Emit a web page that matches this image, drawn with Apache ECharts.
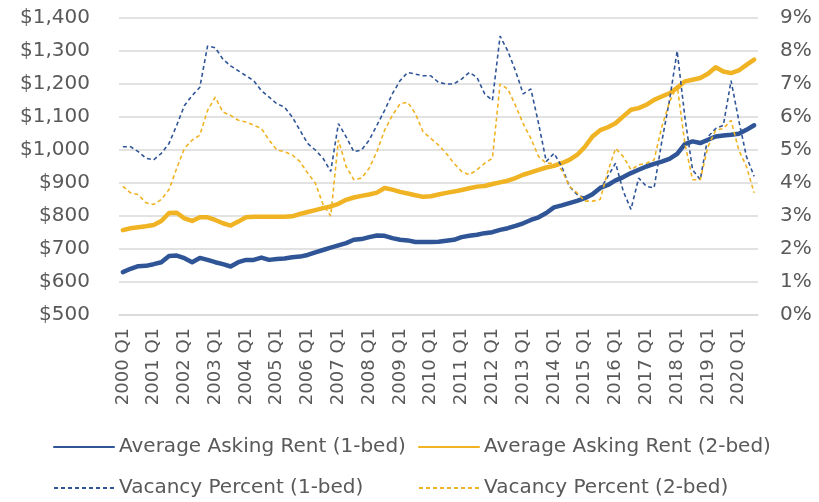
<!DOCTYPE html>
<html>
<head>
<meta charset="utf-8">
<style>
  html, body { margin: 0; padding: 0; background: #ffffff; }
  #chart { width: 819px; height: 502px; }
</style>
<script src="https://cdn.jsdelivr.net/npm/echarts@6/dist/echarts.min.js"></script>
</head>
<body>
<div id="chart"></div>
<script>
// Quarterly periods, 2000 Q1 through 2020 Q3
const years = [2000, 2001, 2002, 2003, 2004, 2005, 2006, 2007, 2008, 2009, 2010,
               2011, 2012, 2013, 2014, 2015, 2016, 2017, 2018, 2019, 2020];
const quarters = ['Q1', 'Q2', 'Q3', 'Q4'];
const lastQuarterCount = 3; // 2020 runs through Q3

const categories = [];
years.forEach(function (y, yi) {
  const n = yi === years.length - 1 ? lastQuarterCount : quarters.length;
  for (let q = 0; q < n; q++) categories.push(y + ' ' + quarters[q]);
});

// Average asking rent, dollars per month
const rentOneBed = [
  630, 640, 648, 649, 654, 660, 679, 680, 672, 660,
  673, 667, 660, 654, 647, 660, 667, 667, 674, 667,
  670, 671, 675, 677, 682, 690, 697, 704, 711, 718,
  728, 730, 736, 741, 740, 733, 728, 726, 721, 721,
  721, 722, 725, 728, 736, 740, 743, 748, 751, 758,
  763, 770, 778, 788, 796, 809, 826, 832, 839, 846,
  854, 866, 885, 894, 908, 918, 930, 940, 950, 958,
  965, 973, 988, 1018, 1026, 1021, 1031, 1041, 1044, 1046,
  1049, 1061, 1075
];
const rentTwoBed = [
  757, 763, 766, 769, 773, 785, 809, 810, 793, 785,
  796, 796, 788, 778, 771, 783, 796, 798, 798, 798,
  798, 798, 799, 806, 812, 818, 824, 829, 837, 849,
  856, 861, 865, 871, 885, 880, 873, 868, 863, 858,
  860, 865, 870, 874, 879, 884, 889, 891, 897, 902,
  907, 915, 925, 932, 940, 947, 952, 960, 970, 985,
  1009, 1041, 1060, 1069, 1081, 1102, 1122, 1127, 1137, 1152,
  1162, 1172, 1188, 1208, 1213, 1218, 1231, 1251, 1238, 1233,
  1241, 1258, 1274
];

// Vacancy rate, percent
const vacancyOneBed = [
  5.1, 5.1, 4.95, 4.75, 4.7, 4.9, 5.2, 5.75, 6.35, 6.65,
  6.9, 8.15, 8.1, 7.75, 7.55, 7.4, 7.25, 7.1, 6.8, 6.6,
  6.4, 6.3, 6.0, 5.6, 5.2, 5.0, 4.75, 4.35, 5.8, 5.4,
  4.95, 5.0, 5.3, 5.75, 6.2, 6.7, 7.1, 7.35, 7.3, 7.25,
  7.25, 7.05, 7.0, 7.0, 7.15, 7.35, 7.2, 6.7, 6.5, 8.45,
  8.0, 7.4, 6.7, 6.85, 5.8, 4.65, 4.9, 4.5, 3.9, 3.65,
  3.55, 3.7, 3.8, 4.2, 4.6, 3.75, 3.2, 4.15, 3.9, 3.85,
  5.25, 6.5, 8.0, 6.0, 4.4, 4.1, 5.4, 5.65, 5.75, 7.1,
  5.9, 4.8, 4.2
];
const vacancyTwoBed = [
  3.9, 3.7, 3.65, 3.4, 3.35, 3.5, 3.8, 4.45, 5.05, 5.3,
  5.45, 6.2, 6.6, 6.15, 6.05, 5.9, 5.85, 5.75, 5.65, 5.3,
  5.0, 4.95, 4.85, 4.65, 4.3, 4.0, 3.35, 3.0, 5.3, 4.5,
  4.1, 4.15, 4.45, 4.95, 5.6, 6.05, 6.4, 6.45, 6.1, 5.55,
  5.35, 5.15, 4.9, 4.6, 4.35, 4.25, 4.4, 4.6, 4.75, 7.0,
  6.85, 6.35, 5.8, 5.35, 4.8, 4.6, 4.6, 4.4, 3.9, 3.7,
  3.45, 3.45, 3.5, 4.35, 5.05, 4.8, 4.4, 4.55, 4.6, 4.7,
  5.7, 6.45, 6.95, 5.2, 4.1, 4.1, 5.1, 5.6, 5.65, 5.9,
  5.0, 4.5, 3.7
];

const seriesNames = [
  'Average Asking Rent (1-bed)',
  'Average Asking Rent (2-bed)',
  'Vacancy Percent (1-bed)',
  'Vacancy Percent (2-bed)'
];

const BLUE = '#2F5597';
const GOLD = '#F0B323';
const TEXT = '#595959';
const GRID = '#D9D9D9';
const FONT = 'DejaVu Sans';

// One legend block per entry so both columns line up across rows
function legendAt(name, left, top) {
  return {
    data: [name],
    left: left,
    top: top,
    orient: 'horizontal',
    itemWidth: 60,
    itemHeight: 14,
    padding: 0,
    itemStyle: { opacity: 0 },
    textStyle: { color: TEXT, fontFamily: FONT, fontSize: 20 }
  };
}

const chart = echarts.init(document.getElementById('chart'), null, { renderer: 'canvas' });

chart.setOption({
  animation: false,
  backgroundColor: '#ffffff',
  grid: { left: 119, right: 61, top: 18, bottom: 187, containLabel: false },
  legend: [
    legendAt(seriesNames[0], 53, 437),
    legendAt(seriesNames[1], 418, 437),
    legendAt(seriesNames[2], 53, 478),
    legendAt(seriesNames[3], 418, 478)
  ],
  xAxis: {
    type: 'category',
    data: categories,
    boundaryGap: true,
    axisLine: { show: true, lineStyle: { color: GRID, width: 1.5 } },
    axisTick: { show: false },
    axisLabel: {
      interval: 3,
      rotate: 90,
      margin: 13,
      color: TEXT,
      fontFamily: FONT,
      fontSize: 18
    },
    splitLine: { show: false }
  },
  yAxis: [
    {
      type: 'value',
      min: 500,
      max: 1400,
      interval: 100,
      axisLine: { show: false },
      axisTick: { show: false },
      axisLabel: {
        margin: 29,
        color: TEXT,
        fontFamily: FONT,
        fontSize: 20,
        formatter: function (v) { return '$' + v.toLocaleString('en-US'); }
      },
      splitLine: { show: true, lineStyle: { color: GRID, width: 1.5 } }
    },
    {
      type: 'value',
      min: 0,
      max: 9,
      interval: 1,
      axisLine: { show: false },
      axisTick: { show: false },
      axisLabel: {
        margin: 22,
        color: TEXT,
        fontFamily: FONT,
        fontSize: 20,
        formatter: function (v) { return v + '%'; }
      },
      splitLine: { show: false }
    }
  ],
  series: [
    {
      name: seriesNames[0],
      type: 'line',
      yAxisIndex: 0,
      data: rentOneBed,
      symbol: 'none',
      color: BLUE,
      lineStyle: { color: BLUE, width: 4.5, cap: 'round', join: 'round' },
      z: 2
    },
    {
      name: seriesNames[1],
      type: 'line',
      yAxisIndex: 0,
      data: rentTwoBed,
      symbol: 'none',
      color: GOLD,
      lineStyle: { color: GOLD, width: 4.5, cap: 'round', join: 'round' },
      z: 2
    },
    {
      name: seriesNames[2],
      type: 'line',
      yAxisIndex: 1,
      data: vacancyOneBed,
      symbol: 'none',
      color: BLUE,
      lineStyle: { color: BLUE, width: 1.6, type: [4, 3] },
      z: 3
    },
    {
      name: seriesNames[3],
      type: 'line',
      yAxisIndex: 1,
      data: vacancyTwoBed,
      symbol: 'none',
      color: GOLD,
      lineStyle: { color: GOLD, width: 1.6, type: [4, 3] },
      z: 3
    }
  ]
});
</script>
</body>
</html>
